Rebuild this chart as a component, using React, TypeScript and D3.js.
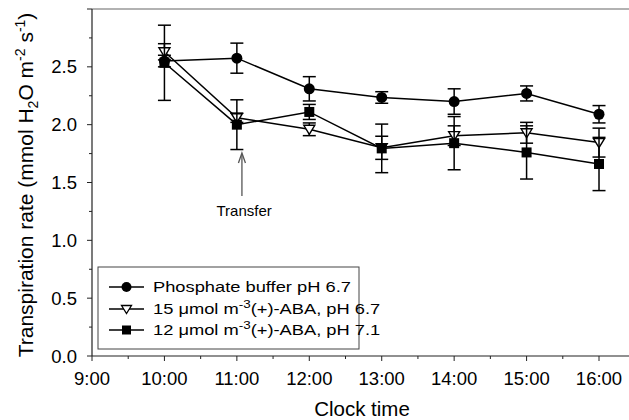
import React from "react";
import * as d3 from "d3";

const times = [10, 11, 12, 13, 14, 15, 16];
const xTickLabels = ["9:00", "10:00", "11:00", "12:00", "13:00", "14:00", "15:00", "16:00"];
const yTicks = [0, 0.5, 1.0, 1.5, 2.0, 2.5];

const phosphate = [2.55, 2.575, 2.31, 2.235, 2.2, 2.27, 2.09];
const phosphateErr = [0.05, 0.13, 0.105, 0.05, 0.11, 0.065, 0.075];
const aba15 = [2.63, 2.06, 1.96, 1.8, 1.905, 1.93, 1.845];
const aba15Err = [0.07, 0.04, 0.055, 0.1, 0.085, 0.09, 0.125];
const aba12 = [2.535, 2.0, 2.11, 1.795, 1.84, 1.76, 1.66];
const aba12Err = [0.325, 0.215, 0.065, 0.21, 0.23, 0.23, 0.23];

const W = 629;
const H = 420;
const left = 92;
const top = 9;
const bottom = 356;
const right = 629;
const FONT = "'Liberation Sans', Arial, Helvetica, sans-serif";

const x = d3.scaleLinear().domain([9, 9 + (right - left) / 72.43]).range([left, right]);
const y = d3.scaleLinear().domain([0, 3]).range([bottom, top]);

type Series = { name: string; values: number[]; errs: number[]; marker: "circle" | "tri" | "square" };

const series: Series[] = [
  { name: "phosphate", values: phosphate, errs: phosphateErr, marker: "circle" },
  { name: "aba15", values: aba15, errs: aba15Err, marker: "tri" },
  { name: "aba12", values: aba12, errs: aba12Err, marker: "square" },
];

function Marker({ kind, cx, cy }: { kind: string; cx: number; cy: number }) {
  if (kind === "circle") return <circle cx={cx} cy={cy} r={5.5} fill="#000" />;
  if (kind === "square") return <rect x={cx - 5} y={cy - 5} width={10} height={10} fill="#000" />;
  const s = 5.5;
  return (
    <path
      d={`M${cx - s},${cy - 4} L${cx + s},${cy - 4} L${cx},${cy + 5} Z`}
      fill="#fff"
      stroke="#000"
      strokeWidth={1.4}
    />
  );
}

export default function App() {
  const line = d3
    .line<number>()
    .x((_, i) => x(times[i]))
    .y((d) => y(d));

  const minorY = d3.range(0, 3.01, 0.25);
  const minorX = d3.range(9, 16.51, 0.5);

  return (
    <svg
      width={W}
      height={H}
      style={{ position: "absolute", left: 0, top: 0, background: "#fff" }}
      fontFamily={FONT}
    >
      <rect x={0} y={0} width={W} height={H} fill="#fff" />
      {/* frame */}
      <line x1={left} x2={right} y1={top} y2={top} stroke="#666" strokeWidth={1.2} />
      <line x1={left} x2={left} y1={top} y2={bottom} stroke="#222" strokeWidth={1.2} />
      <line x1={left} x2={right} y1={bottom} y2={bottom} stroke="#222" strokeWidth={1.2} />

      {/* y ticks */}
      {minorY.map((v) => {
        const major = Math.abs(v * 2 - Math.round(v * 2)) < 1e-6;
        return (
          <line
            key={"yt" + v}
            x1={left - (major ? 5 : 3)}
            x2={left}
            y1={y(v)}
            y2={y(v)}
            stroke="#222"
            strokeWidth={1}
          />
        );
      })}
      {yTicks.map((v) => (
        <text key={"yl" + v} x={77} y={y(v) + 6.5} textAnchor="end" fontSize={18.5} fill="#000">
          {v.toFixed(1)}
        </text>
      ))}

      {/* x ticks */}
      {minorX.map((v) => {
        const major = Math.abs(v - Math.round(v)) < 1e-6;
        return (
          <line
            key={"xt" + v}
            x1={x(v)}
            x2={x(v)}
            y1={bottom}
            y2={bottom + (major ? 5 : 3)}
            stroke="#222"
            strokeWidth={1}
          />
        );
      })}
      {xTickLabels.map((lab, i) => (
        <text key={"xl" + lab} x={x(9 + i)} y={385} textAnchor="middle" fontSize={18.5} fill="#000">
          {lab}
        </text>
      ))}

      {/* axis titles */}
      <text x={362} y={416} textAnchor="middle" fontSize={20.5} fill="#000">
        Clock time
      </text>
      <text
        transform={`translate(33, 185) rotate(-90)`}
        textAnchor="middle"
        fontSize={21}
        fill="#000"
      >
        Transpiration rate (mmol H
        <tspan fontSize={14} dy={5}>2</tspan>
        <tspan dy={-5}>O m</tspan>
        <tspan fontSize={14} dy={-8}>-2</tspan>
        <tspan dy={8}> s</tspan>
        <tspan fontSize={14} dy={-8}>-1</tspan>
        <tspan dy={8}>)</tspan>
      </text>

      {/* series */}
      {series.map((s) => (
        <g key={s.name}>
          <path d={line(s.values) || ""} fill="none" stroke="#000" strokeWidth={1.5} />
          {s.values.map((v, i) => {
            const cx = x(times[i]);
            const e = s.errs[i];
            return (
              <g key={i}>
                <line x1={cx} x2={cx} y1={y(v + e)} y2={y(v - e)} stroke="#000" strokeWidth={1.5} />
                <line x1={cx - 6.5} x2={cx + 6.5} y1={y(v + e)} y2={y(v + e)} stroke="#000" strokeWidth={1.5} />
                <line x1={cx - 6.5} x2={cx + 6.5} y1={y(v - e)} y2={y(v - e)} stroke="#000" strokeWidth={1.5} />
              </g>
            );
          })}
          {s.values.map((v, i) => (
            <Marker key={"m" + i} kind={s.marker} cx={x(times[i])} cy={y(v)} />
          ))}
        </g>
      ))}

      {/* transfer annotation */}
      <g stroke="#555" strokeWidth={1.3} fill="none">
        <line x1={x(11.07)} x2={x(11.07)} y1={196} y2={154} />
        <path d={`M${x(11.07) - 3.5},${163} L${x(11.07)},${153} L${x(11.07) + 3.5},${163}`} />
      </g>
      <text x={x(11.1)} y={216} textAnchor="middle" fontSize={15} fill="#000">
        Transfer
      </text>

      {/* legend */}
      <rect x={98} y={267} width={261} height={82} fill="#fff" stroke="#444" strokeWidth={1} />
      {[
        { kind: "circle", y: 287, label: <tspan>Phosphate buffer pH 6.7</tspan> },
        {
          kind: "tri",
          y: 309,
          label: (
            <>
              <tspan>15 μmol m</tspan>
              <tspan fontSize={11} dy={-6}>-3</tspan>
              <tspan dy={6}>(+)-ABA, pH 6.7</tspan>
            </>
          ),
        },
        {
          kind: "square",
          y: 330,
          label: (
            <>
              <tspan>12 μmol m</tspan>
              <tspan fontSize={11} dy={-6}>-3</tspan>
              <tspan dy={6}>(+)-ABA, pH 7.1</tspan>
            </>
          ),
        },
      ].map((it, i) => (
        <g key={"lg" + i}>
          <line x1={109} x2={144} y1={it.y} y2={it.y} stroke="#000" strokeWidth={1.5} />
          {it.kind === "circle" && <circle cx={126.5} cy={it.y} r={5} fill="#000" />}
          {it.kind === "square" && <rect x={122} y={it.y - 4.5} width={9} height={9} fill="#000" />}
          {it.kind === "tri" && (
            <path
              d={`M${121.5},${it.y - 3.5} L${131.5},${it.y - 3.5} L${126.5},${it.y + 4.5} Z`}
              fill="#fff"
              stroke="#000"
              strokeWidth={1.3}
            />
          )}
          <text
            transform={`translate(153, ${it.y + 5}) scale(1.22, 1)`}
            fontSize={15}
            fill="#000"
          >
            {it.label}
          </text>
        </g>
      ))}
    </svg>
  );
}
